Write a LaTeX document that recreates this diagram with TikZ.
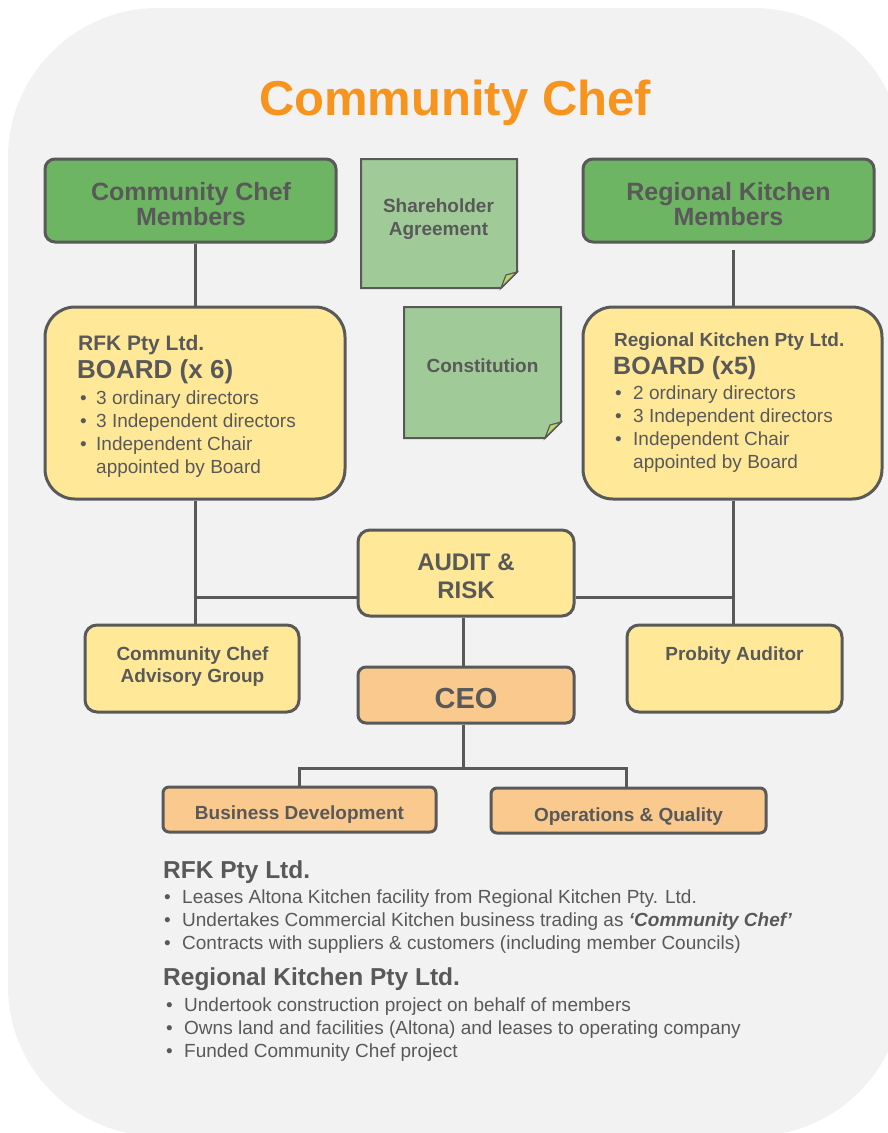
\documentclass[tikz,border=0pt]{standalone}
\usepackage{fontspec}
\setmainfont{Liberation Sans}
\definecolor{bg}{HTML}{F2F2F2}
\definecolor{ttl}{HTML}{F7941D}
\definecolor{tx}{HTML}{595959}
\definecolor{edge}{HTML}{595959}
\definecolor{grn}{HTML}{6DB562}
\definecolor{lgrn}{HTML}{A0CB98}
\definecolor{foldc}{HTML}{B8D66C}
\definecolor{yel}{HTML}{FFE999}
\definecolor{org}{HTML}{FAC98E}
\begin{document}
\begin{tikzpicture}[x=1pt,y=-1pt,
  boxbase/.style={draw=edge,line width=3pt,inner sep=0pt},
  mbox/.style={boxbase,fill=grn,rounded corners=10pt},
  ybox/.style={boxbase,fill=yel,rounded corners=#1},
  obox/.style={boxbase,fill=org,rounded corners=#1},
  note/.style={draw=edge,line width=2pt,fill=lgrn,line join=miter},
  fold/.style={draw=edge,line width=1.2pt,fill=foldc},
  conn/.style={draw=edge,line width=3pt},
  tb/.style={text=tx,inner sep=0pt,font=\bfseries\fontsize{#1}{#1}\selectfont},
  tr/.style={text=tx,inner sep=0pt,font=\fontsize{#1}{#1}\selectfont},
  tb/.default=19, tr/.default=19]
\useasboundingbox (0,0) rectangle (888,1133);
\begin{scope}
\clip (0,0) rectangle (888,1133);
\fill[bg] (8,8) [rounded corners=150pt] rectangle (903,1136);
\end{scope}

% title
\node[anchor=base,text=ttl,inner sep=0pt,font=\bfseries\fontsize{49}{49}\selectfont] (title) at (455,115) {Community Chef};

% connector coordinates
\coordinate (vL) at (195,0);
\coordinate (vR) at (733,0);
\coordinate (vC) at (463,0);
\coordinate (hA) at (0,597);
\coordinate (hC) at (0,768);
\coordinate (rtop) at (733,250);
\coordinate (dL) at (299,0);
\coordinate (dR) at (626,0);

% members boxes
\node[mbox,minimum width=291pt,minimum height=83pt] (memL) at (190.5,200.5) {};
\node[tb=25,anchor=base] (memLa) at (191,200) {Community Chef};
\node[tb=25,anchor=base] (memLb) at (191,225) {Members};
\node[mbox,minimum width=291pt,minimum height=83pt] (memR) at (728.5,200.5) {};
\node[tb=25,anchor=base] (memRa) at (728.5,200) {Regional Kitchen};
\node[tb=25,anchor=base] (memRb) at (728.5,225) {Members};

% notes
\draw[note] (361,159) -- (517,159) -- (517,272) -- (501,288) -- (361,288) -- cycle;
\draw[fold] (517,272) -- (506,275) -- (501,288) -- cycle;
\node[tb,anchor=base] (shareA) at (438.5,212) {Shareholder};
\node[tb,anchor=base] (shareB) at (438.5,235) {Agreement};
\draw[note] (404,307) -- (561,307) -- (561,422) -- (545,438) -- (404,438) -- cycle;
\draw[fold] (561,422) -- (550,425) -- (545,438) -- cycle;
\node[tb,anchor=base] (constit) at (482.5,372) {Constitution};

% board boxes
\node[ybox=30pt,minimum width=300pt,minimum height=192pt] (boardL) at (195,403) {};
\node[tb=21,anchor=base west] (bLa) at (78,350) {RFK Pty Ltd.};
\node[tb=26,anchor=base west] (bLb) at (77,378) {BOARD (x 6)};
\node[tr,anchor=base west] (bL1) at (80,404) {\makebox[16pt][l]{•}3 ordinary directors};
\node[tr,anchor=base west] (bL2) at (80,427) {\makebox[16pt][l]{•}3 Independent directors};
\node[tr,anchor=base west] (bL3) at (80,450) {\makebox[16pt][l]{•}Independent Chair};
\node[tr,anchor=base west] (bL4) at (80,473) {\makebox[16pt][l]{}appointed by Board};

\node[ybox=30pt,minimum width=299pt,minimum height=192pt] (boardR) at (732.5,403) {};
\node[tb=19,anchor=base west] (bRa) at (614,346) {Regional Kitchen Pty Ltd.};
\node[tb=25,anchor=base west] (bRb) at (613,374) {BOARD (x5)};
\node[tr,anchor=base west] (bR1) at (615,399) {\makebox[18pt][l]{•}2 ordinary directors};
\node[tr,anchor=base west] (bR2) at (615,422) {\makebox[18pt][l]{•}3 Independent directors};
\node[tr,anchor=base west] (bR3) at (615,445) {\makebox[18pt][l]{•}Independent Chair};
\node[tr,anchor=base west] (bR4) at (615,468) {\makebox[18pt][l]{}appointed by Board};

% audit & risk
\node[ybox=12pt,minimum width=216pt,minimum height=86pt] (audit) at (466,573) {};
\node[tb=24,anchor=base] (auditA) at (466,570) {AUDIT \&};
\node[tb=24,anchor=base] (auditB) at (466,598) {RISK};

% advisory & probity
\node[ybox=12pt,minimum width=214pt,minimum height=87pt] (adv) at (192,668.5) {};
\node[tb,anchor=base] (advA) at (192.5,660) {Community Chef};
\node[tb,anchor=base] (advB) at (192.5,682) {Advisory Group};
\node[ybox=12pt,minimum width=215pt,minimum height=87pt] (prob) at (734.5,668.5) {};
\node[tb,anchor=base] (probA) at (734.5,660) {Probity Auditor};

% CEO
\node[obox=8pt,minimum width=216pt,minimum height=56pt] (ceo) at (466,695) {};
\node[tb=29,anchor=base] (ceoT) at (466,708) {CEO};

% departments
\node[obox=6pt,minimum width=273pt,minimum height=45pt] (bd) at (299.5,809.5) {};
\node[tb,anchor=base] (bdT) at (299.5,819) {Business Development};
\node[obox=6pt,minimum width=275pt,minimum height=45pt] (oq) at (628.5,810.5) {};
\node[tb,anchor=base] (oqT) at (628.5,821) {Operations \& Quality};

% connectors
\draw[conn] (memL.south -| vL) -- (boardL.north -| vL);
\draw[conn] (rtop) -- (boardR.north -| vR);
\draw[conn] (boardL.south -| vL) -- (adv.north -| vL);
\draw[conn] (boardR.south -| vR) -- (prob.north -| vR);
\draw[conn] (vL |- hA) -- (audit.west |- hA);
\draw[conn] (audit.east |- hA) -- (vR |- hA);
\draw[conn] (audit.south -| vC) -- (ceo.north -| vC);
\draw[conn] (ceo.south -| vC) -- (vC |- hC);
\draw[conn] (bd.north -| dL) -- (dL |- hC) -- (dR |- hC) -- (oq.north -| dR);

% bottom text
\node[tb=24.5,anchor=base west] (rfkH) at (163,878) {RFK Pty Ltd.};
\node[tr,anchor=base west] (rfk1) at (164,903) {\makebox[18pt][l]{•}Leases Altona Kitchen facility from Regional Kitchen Pty. Ltd.};
\node[tr,anchor=base west] (rfk2) at (164,926) {\makebox[18pt][l]{•}Undertakes Commercial Kitchen business trading as \textbf{\textit{‘Community Chef’}}};
\node[tr,anchor=base west] (rfk3) at (164,949) {\makebox[18pt][l]{•}Contracts with suppliers \& customers (including member Councils)};
\node[tb=24.5,anchor=base west] (rkH) at (163,985) {Regional Kitchen Pty Ltd.};
\node[tr,anchor=base west] (rk1) at (166,1011) {\makebox[18pt][l]{•}Undertook construction project on behalf of members};
\node[tr,anchor=base west] (rk2) at (166,1034) {\makebox[18pt][l]{•}Owns land and facilities (Altona) and leases to operating company};
\node[tr,anchor=base west] (rk3) at (166,1057) {\makebox[18pt][l]{•}Funded Community Chef project};
\end{tikzpicture}
\end{document}
